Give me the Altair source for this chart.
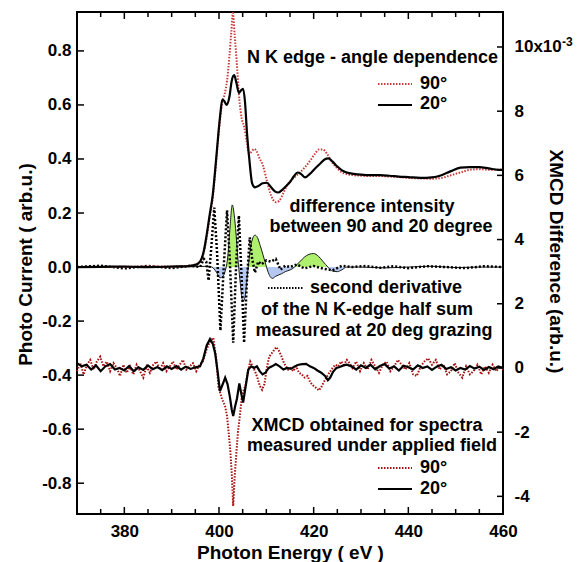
import altair as alt
import pandas as pd

# ---------------- data ----------------
# N K-edge spectra, left axis (arb.u.)
nk20_e = [370, 375, 380, 385, 390, 393, 395, 396, 396.8, 397.4, 398.0, 398.7, 399.3, 399.9, 400.3, 400.7,
          401.1, 401.6, 402.2, 402.7, 403.2, 403.7, 404.2, 404.7, 405.1, 405.5, 405.9, 406.4, 407.0, 407.6,
          408.3, 409.2, 410.1, 411.0, 411.8, 412.5, 413.3, 414.2, 415.0, 415.8, 416.6, 417.3, 418.2, 419.2,
          420.3, 421.5, 422.3, 423.1, 424.0, 425.0, 426.0, 427.0, 428.5, 430, 432, 434, 436, 438, 440, 442.5,
          445, 447, 449, 451, 453, 455, 457, 459, 460]
nk20_v = [0.0, 0.001, 0.002, 0.0, 0.002, 0.003, 0.008, 0.02, 0.06, 0.12, 0.19, 0.27, 0.38, 0.50, 0.57, 0.62,
          0.615, 0.60, 0.63, 0.69, 0.71, 0.68, 0.645, 0.655, 0.66, 0.61, 0.50, 0.40, 0.31, 0.295,
          0.30, 0.31, 0.312, 0.295, 0.28, 0.276, 0.285, 0.30, 0.315, 0.335, 0.35, 0.345, 0.332, 0.345,
          0.365, 0.385, 0.398, 0.402, 0.39, 0.372, 0.358, 0.35, 0.345, 0.342, 0.34, 0.34, 0.338, 0.335, 0.333, 0.33,
          0.332, 0.34, 0.355, 0.368, 0.37, 0.37, 0.365, 0.36, 0.36]

nk90_e = [370, 375, 380, 385, 390, 393, 395, 396, 396.8, 397.4, 398.0, 398.7, 399.3, 399.9, 400.3, 400.7,
          401.2, 401.7, 402.2, 402.6, 402.95, 403.3, 403.7, 404.3, 404.8, 405.3, 405.9, 406.3, 406.8, 407.4,
          407.9, 408.5, 409.3, 410.1, 410.8, 411.4, 412.0, 412.7, 413.5, 414.3, 415.2, 416.1, 417.1, 418.2,
          419.3, 420.3, 421.1, 421.9, 422.8, 423.8, 425.0, 426.0, 427.0, 428.5, 430, 432, 434, 436, 438, 440,
          442.5, 445, 447, 449, 451, 453, 455, 457, 459, 460]
nk90_v = [0.0, 0.0, 0.001, 0.002, 0.002, 0.004, 0.01, 0.02, 0.055, 0.11, 0.18, 0.26, 0.37, 0.49, 0.56, 0.61,
          0.64, 0.69, 0.78, 0.87, 0.94, 0.86, 0.77, 0.62, 0.55, 0.52, 0.46, 0.42, 0.425, 0.437,
          0.43, 0.405, 0.375, 0.32, 0.275, 0.25, 0.24, 0.245, 0.27, 0.30, 0.32, 0.335, 0.35, 0.37,
          0.395, 0.42, 0.435, 0.435, 0.42, 0.39, 0.365, 0.35, 0.344, 0.34, 0.338, 0.337, 0.337, 0.335, 0.333, 0.33,
          0.328, 0.327, 0.33, 0.34, 0.35, 0.36, 0.362, 0.36, 0.36, 0.36]

# difference intensity 90 - 20 degree, left axis
diff_e = [370, 380, 390, 396, 397.5, 398.5, 399.5, 400.2, 400.8, 401.3, 401.8, 402.3, 402.8, 403.3, 403.7,
          404.1, 404.5, 404.9, 405.2, 405.6, 406.0, 406.5, 407.0, 407.6, 408.1, 408.7, 409.3, 409.8, 410.3,
          410.8, 411.3, 411.9, 412.5, 413.2, 414.0, 414.8, 415.6, 416.4, 417.2, 418.0, 419.0, 420.0, 421.0,
          422.0, 423.0, 424.0, 425.0, 426.0, 427.0, 430, 435, 440, 445, 450, 455, 460]
diff_v = [0, 0, 0, 0.002, 0.003, 0.0, -0.02, -0.04, -0.035, -0.015, 0.03, 0.14, 0.23, 0.18, 0.10,
          0.01, -0.06, -0.12, -0.125, -0.10, -0.03, 0.05, 0.10, 0.118, 0.11, 0.08, 0.045, 0.015, -0.015,
          -0.035, -0.042, -0.035, -0.03, -0.025, -0.017, -0.012, -0.005, 0.008, 0.022, 0.036, 0.047, 0.05, 0.04,
          0.02, 0.0, -0.015, -0.017, -0.01, 0.0, 0.0, -0.003, 0.0, 0.003, -0.002, 0.0, 0.0]

# second derivative of the half sum, left axis
der_e = [370, 375, 380, 385, 390, 394, 396, 396.8, 397.3, 397.8, 398.4, 399.0, 399.6, 400.3, 401.0, 401.7,
         402.3, 403.0, 403.6, 404.2, 404.8, 405.3, 405.9, 406.5, 407.0, 407.6, 408.3, 409, 410, 411, 412,
         413, 414, 415, 416.5, 418, 420, 422, 424, 426, 428, 431, 434, 437, 440, 444, 448, 452, 456, 460]
der_v = [0, 0.005, -0.005, 0.004, -0.004, 0.005, 0.0, 0.03, 0.02, -0.05, 0.08, 0.22, 0.05, -0.235, 0.0, 0.21,
         0.02, -0.28, 0.0, 0.19, -0.05, -0.28, -0.05, 0.11, 0.03, -0.02, 0.02, 0.01, 0.025, 0.02, 0.03,
         -0.01, 0.005, 0.0, 0.01, -0.005, 0.004, -0.006, -0.012, 0.005, 0.0, 0.004, -0.003, 0.003, -0.004,
         0.003, 0.0, -0.004, 0.003, 0.0]

# XMCD (right axis, x10^-3)
xmcd20_e = [370, 371, 372, 373, 374, 375, 376, 377, 378, 379, 380, 381, 382, 383, 384, 385, 386, 387, 388,
            389, 390, 391, 392, 393, 394, 395, 396,
            396.7, 397.4, 398.1, 398.7, 399.2, 399.7, 400.2, 400.8, 401.3, 401.8, 402.3, 402.7, 403.0, 403.4,
            403.8, 404.3, 404.7, 405.1, 405.6, 406.2, 406.8, 407.4, 408.0, 408.6, 409.2, 409.8, 410.5, 411.2,
            412.0, 412.8, 413.6, 414.4, 415.2, 416.0, 416.8, 417.6, 418.4, 419.2, 420.0, 420.8, 421.6, 422.4,
            423.0, 423.5, 424.1, 424.8, 425.5, 426.3, 427.0,
            428, 429, 430, 431, 432, 433, 434, 435, 436, 437, 438, 439, 440, 441, 442, 443, 444, 445, 446,
            447, 448, 449, 450, 451, 452, 453, 454, 455, 456, 457, 458, 459, 460]
xmcd20_v = [0.15, 0.05, 0.1, -0.05, 0.08, -0.1, 0.05, 0.12, -0.05, 0.0, -0.08, 0.06, -0.1, 0.02, -0.06, 0.08,
            -0.04, 0.03, -0.07, 0.05, -0.03, 0.06, -0.05, 0.04, -0.03, 0.02, 0.05,
            0.3, 0.7, 0.9, 0.75, 0.45, -0.1, -0.72, -0.5, -0.3, -0.5, -0.9, -1.3, -1.5, -1.2,
            -0.95, -0.48, -0.8, -1.08, -0.6, -0.05, 0.05, 0.0, 0.05, -0.1, -0.2, -0.15, 0.0, 0.05,
            0.12, 0.05, -0.05, 0.0, -0.03, 0.05, 0.1, 0.12, 0.13, 0.05, 0.0, -0.08, -0.15, -0.25,
            -0.38, -0.3, -0.12, 0.0, 0.03, 0.08, 0.1,
            0.05, -0.05, 0.08, 0.0, 0.1, -0.04, 0.06, 0.12, -0.02, 0.05, -0.08, 0.07, 0.02, -0.05, 0.08,
            0.0, 0.05, -0.06, 0.04, 0.1, -0.03, 0.02, -0.08, 0.0, -0.05, 0.06, -0.02, 0.04, -0.06, 0.03,
            -0.04, 0.05, 0.0]

xmcd90_e = [370, 370.7, 371.4, 372.1, 372.8, 373.5, 374.2, 374.9, 375.6, 376.3, 377, 377.7, 378.4, 379.1,
            379.8, 380.5, 381.2, 381.9, 382.6, 383.3, 384, 384.7, 385.4, 386.1, 386.8, 387.5, 388.2, 388.9,
            389.6, 390.3, 391, 391.7, 392.4, 393.1, 393.8, 394.5, 395.2, 395.9, 396.6,
            397.3, 398.0, 398.8, 399.4, 399.9, 400.6, 401.3, 401.7, 402.0, 402.4, 402.7, 403.0, 403.35, 403.7,
            404.0, 404.4, 404.8, 405.2, 405.6, 406.1, 406.6, 407.1, 407.6, 408.1, 408.6, 409.1, 409.6, 410.1,
            410.6, 411.1, 411.6, 412.1, 412.6, 413.1, 413.6, 414.1, 414.6, 415.1, 415.7, 416.3, 416.9, 417.5,
            418.1, 418.7, 419.3, 419.9, 420.5, 421.1, 421.6, 422.1, 422.7, 423.3, 424.0, 424.6, 425.2, 425.8,
            426.4, 427.0, 427.6,
            428.2, 429, 429.8, 430.6, 431.4, 432.2, 433, 433.8, 434.6, 435.4, 436.2, 437, 437.8, 438.6, 439.4,
            440.2, 441, 441.8, 442.6, 443.4, 444.2, 445, 445.8, 446.6, 447.4, 448.2, 449, 449.8, 450.6, 451.4,
            452.2, 453, 453.8, 454.6, 455.4, 456.2, 457, 457.8, 458.6, 459.4, 460]
xmcd90_v = [-0.1, 0.15, -0.2, 0.1, 0.25, -0.05, 0.2, 0.35, 0.05, 0.2, -0.1, 0.15, 0.0, -0.25,
            0.1, -0.15, 0.05, -0.2, 0.1, -0.1, -0.3, 0.05, -0.15, 0.1, 0.2, -0.05, 0.15, -0.1,
            0.05, 0.2, -0.05, 0.1, 0.25, -0.05, 0.05, 0.15, -0.1, 0.1, 0.2,
            0.55, 0.8, 0.94, 0.3, -0.6, -0.95, -1.2, -1.5, -1.95, -2.6, -3.3, -4.3, -3.3, -2.6,
            -2.0, -1.5, -0.92, -0.7, -0.55, -0.1, 0.2, 0.05, -0.1, -0.3, -0.55, -0.68, -0.5, 0.0,
            0.35, 0.45, 0.55, 0.65, 0.55, 0.4, 0.2, 0.05, -0.05, 0.0, -0.1, 0.05, -0.15, -0.2,
            -0.3, -0.25, -0.45, -0.55, -0.62, -0.7, -0.6, -0.45, -0.3, -0.15, 0.0, 0.1, 0.05, 0.2,
            0.1, 0.25, 0.15,
            0.0, 0.2, -0.1, 0.15, -0.05, 0.25, 0.05, -0.15, 0.1, 0.2, -0.1, 0.05, 0.25, 0.1, -0.05,
            0.15, -0.2, -0.25, 0.05, 0.2, 0.3, 0.1, 0.25, -0.05, 0.1, -0.2, -0.1, 0.15, -0.15, -0.3,
            0.05, -0.2, -0.1, 0.1, -0.2, 0.05, -0.15, 0.1, -0.1, 0.05, -0.05]

# axis ticks / labels
x_label_values = [380, 400, 420, 440, 460]
x_minor_ticks = [375, 385, 390, 395, 405, 410, 415, 425, 430, 435, 445, 450, 455]
x_major_ticks = [380, 400, 420, 440]
left_ticks = [-0.8, -0.6, -0.4, -0.2, 0.0, 0.2, 0.4, 0.6, 0.8]
right_ticks = [-4, -2, 0, 2, 4, 6, 8, 10]

# ---------------- chart ----------------
W, H = 426, 502
FONT = "Liberation Sans"
RED1 = "#cc3a3a"
RED2 = "#a80f0f"

xs = alt.Scale(domain=[370, 460], nice=False, zero=False)
ls = alt.Scale(domain=[-0.914, 0.944], nice=False, zero=False)
rs = alt.Scale(domain=[-4.55, 11.09], nice=False, zero=False)

x_axis = alt.Axis(values=x_label_values, title="Photon Energy ( eV )", ticks=False, domain=False, grid=False,
                  labelFlush=False, labelOverlap=False,
                  labelFont=FONT, labelFontSize=17, labelFontWeight="bold", labelColor="black", labelPadding=9,
                  titleFont=FONT, titleFontSize=19, titleFontWeight="bold", titleColor="black",
                  titleX=W / 2, titleY=38, titleBaseline="middle", titleAlign="center")
l_axis = alt.Axis(values=left_ticks, format=".1f", title="Photo Current ( arb.u.)", ticks=False, domain=False,
                  grid=False, labelFlush=False, labelOverlap=False,
                  labelExpr="replace(datum.label, '\u2212', '-')",
                  labelFont=FONT, labelFontSize=17, labelFontWeight="bold", labelColor="black", labelPadding=6,
                  titleFont=FONT, titleFontSize=19, titleFontWeight="bold", titleColor="black",
                  titleX=-52, titleY=252, titleAngle=270, titleBaseline="middle", titleAlign="center")
r_axis = alt.Axis(values=right_ticks, format="d", title="XMCD Difference (arb.u.)", orient="right", ticks=False,
                  domain=False, grid=False, labelFlush=False, labelOverlap=False,
                  labelExpr="datum.value == 10 ? '10x10' : replace(datum.label, '\u2212', '-')",
                  labelFont=FONT, labelFontSize=17, labelFontWeight="bold", labelColor="black", labelPadding=11,
                  titleFont=FONT, titleFontSize=19, titleFontWeight="bold", titleColor="black",
                  titleX=52, titleY=249, titleAngle=90, titleBaseline="middle", titleAlign="center")


def X(f):
    return alt.X(f, type="quantitative", scale=xs, axis=x_axis)


def YL(f):
    return alt.Y(f, type="quantitative", scale=ls, axis=l_axis)


def YR(f):
    return alt.Y(f, type="quantitative", scale=rs, axis=r_axis)


nk20 = pd.DataFrame({"e": nk20_e, "v": nk20_v})
nk90 = pd.DataFrame({"e": nk90_e, "v": nk90_v})
dif = pd.DataFrame({"e": diff_e, "v": diff_v})
der = pd.DataFrame({"e": der_e, "v": der_v})
x20 = pd.DataFrame({"e": xmcd20_e, "v": xmcd20_v})
x90 = pd.DataFrame({"e": xmcd90_e, "v": xmcd90_v})
one = pd.DataFrame({"k": [0]})

pos_area = alt.Chart(dif).transform_calculate(p="max(datum.v, 0)").mark_area(
    color="#aef06e", opacity=1, interpolate="monotone").encode(x=X("e"), y=YL("p:Q"), y2=alt.datum(0))
neg_area = alt.Chart(dif).transform_calculate(n="min(datum.v, 0)").mark_area(
    color="#b4c8f2", opacity=1, interpolate="monotone").encode(x=X("e"), y=YL("n:Q"), y2=alt.datum(0))
dif_line = alt.Chart(dif).mark_line(color="#1a1a1a", strokeWidth=1, interpolate="monotone").encode(
    x=X("e"), y=YL("v"))
der_line = alt.Chart(der).mark_line(color="black", strokeWidth=2.5, strokeDash=[2, 2]).encode(
    x=X("e"), y=YL("v"))
nk90_line = alt.Chart(nk90).mark_line(color=RED1, strokeWidth=2, strokeDash=[1.5, 1.5],
                                      interpolate="monotone").encode(x=X("e"), y=YL("v"))
nk20_line = alt.Chart(nk20).mark_line(color="black", strokeWidth=2.2, interpolate="monotone").encode(
    x=X("e"), y=YL("v"))

# inward ticks
lt = alt.Chart(pd.DataFrame({"t": left_ticks})).mark_rule(color="black", strokeWidth=1.5).encode(
    y=YL("t"), x=alt.value(0), x2=alt.value(7))
bt_major = alt.Chart(pd.DataFrame({"t": x_major_ticks})).mark_rule(color="black", strokeWidth=1.5).encode(
    x=X("t"), y=alt.value(H), y2=alt.value(H - 7))
bt_minor = alt.Chart(pd.DataFrame({"t": x_minor_ticks})).mark_rule(color="black", strokeWidth=1.5).encode(
    x=X("t"), y=alt.value(H), y2=alt.value(H - 5))
tt_major = alt.Chart(pd.DataFrame({"t": x_major_ticks})).mark_rule(color="black", strokeWidth=1.5).encode(
    x=X("t"), y=alt.value(0), y2=alt.value(7))
tt_minor = alt.Chart(pd.DataFrame({"t": x_minor_ticks})).mark_rule(color="black", strokeWidth=1.5).encode(
    x=X("t"), y=alt.value(0), y2=alt.value(5))
rt = alt.Chart(pd.DataFrame({"t": right_ticks})).mark_rule(color="black", strokeWidth=1.5).encode(
    y=YR("t"), x=alt.value(W - 6), x2=alt.value(W))


def txt(s, x, y, align="center", size=18):
    return alt.Chart(one).mark_text(text=s, align=align, baseline="middle", font=FONT, fontSize=size,
                                    fontWeight="bold", color="black").encode(x=alt.value(x), y=alt.value(y))


def sample(y, color, dash=None, width=2.2):
    kw = {"color": color, "strokeWidth": width}
    if dash:
        kw["strokeDash"] = dash
    return alt.Chart(one).mark_rule(**kw).encode(x=alt.value(301), x2=alt.value(335), y=alt.value(y))


annotations = [
    txt("N K edge - angle dependence", 421, 46, align="right"),
    sample(72, RED1, [1.5, 1.5]), txt("90°", 343, 72, align="left"),
    sample(93, "black"), txt("20°", 343, 92, align="left"),
    txt("difference intensity", 295, 195),
    txt("between 90 and 20 degree", 304, 215),
    alt.Chart(one).mark_rule(color="black", strokeWidth=2, strokeDash=[1.5, 1.5]).encode(
        x=alt.value(191), x2=alt.value(226), y=alt.value(276)),
    txt("second derivative", 233, 276, align="left"),
    txt("of the N K-edge half sum", 290, 298),
    txt("measured at 20 deg grazing", 297, 319),
    txt("XMCD obtained for spectra", 290, 414),
    txt("measured under applied field", 295, 434),
    sample(456, RED2, [1.5, 1.5]), txt("90°", 343, 456, align="left"),
    sample(477, "black"), txt("20°", 343, 477, align="left"),
    txt("-3", 485, 30, align="left", size=12),
]

left = alt.layer(pos_area, neg_area, dif_line, der_line, nk90_line, nk20_line,
                 lt, bt_major, bt_minor, tt_major, tt_minor, *annotations)

x90_line = alt.Chart(x90).mark_line(color=RED2, strokeWidth=2, strokeDash=[1.5, 1.5]).encode(
    x=X("e"), y=YR("v"))
x20_line = alt.Chart(x20).mark_line(color="black", strokeWidth=2.2).encode(x=X("e"), y=YR("v"))
right = alt.layer(x90_line, x20_line, rt)

chart = alt.layer(left, right).resolve_scale(y="independent").properties(
    width=W, height=H,
    autosize=alt.AutoSizeParams(type="none"),
    padding={"left": 69, "top": 4, "right": 75, "bottom": 48},
).configure_view(stroke="black", strokeWidth=2)

chart.save("out.html", embed_options={"renderer": "svg", "actions": False})
